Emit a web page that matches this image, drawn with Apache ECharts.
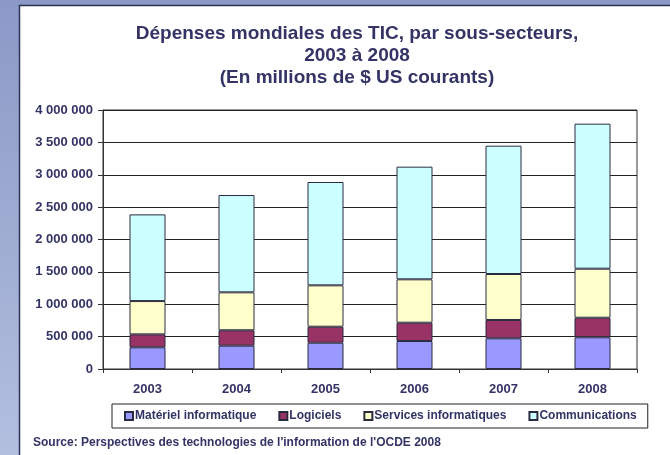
<!DOCTYPE html>
<html>
<head>
<meta charset="utf-8">
<script src="https://cdn.jsdelivr.net/npm/echarts@6/dist/echarts.min.js"></script>
<style>
  html, body { margin: 0; padding: 0; }
  #chart { width: 670px; height: 455px; }
</style>
</head>
<body>
<div id="chart"></div>
<script>
// données (millions de $ US)
const years = ['2003', '2004', '2005', '2006', '2007', '2008']
const materiel = [335000, 360000, 406000, 432000, 474000, 490000]
const logiciels = [200000, 238000, 247000, 283000, 283000, 302000]
const services = [514000, 586000, 639000, 670000, 710000, 757000]
const communications = [1339000, 1503000, 1596000, 1740000, 1982000, 2240000]
const seriesNames = ['Matériel informatique', 'Logiciels', 'Services informatiques', 'Communications']

const textColor = '#333366'
const font = 'Liberation Sans, Arial, sans-serif'

const fmt = v => String(v).replace(/\B(?=(\d{3})+(?!\d))/g, ' ')

const chart = echarts.init(document.getElementById('chart'))

function bar(name, data, color) {
  return {
    name: name,
    type: 'bar',
    stack: 'total',
    data: data,
    barWidth: 36,
    itemStyle: { color: color, borderColor: '#2b2b40', borderWidth: 1 }
  }
}

const option = {
  backgroundColor: {
    type: 'linear', x: 0, y: 0, x2: 0, y2: 1,
    colorStops: [{ offset: 0, color: '#8a99c6' }, { offset: 1, color: '#b3bfdf' }]
  },
  graphic: [{
    type: 'rect',
    z: -10,
    shape: { x: 19.5, y: 5.5, width: 700, height: 500 },
    style: { fill: '#fff', stroke: '#2e3358', lineWidth: 1.5 }
  }],
  title: [{
    text: 'Dépenses mondiales des TIC, par sous-secteurs,\n2003 à 2008\n(En millions de $ US courants)',
    left: 352,
    textAlign: 'center',
    top: 18,
    textStyle: { fontFamily: font, fontSize: 19, fontWeight: 'bold', color: textColor, lineHeight: 22 }
  }, {
    text: "Source: Perspectives des technologies de l'information de l'OCDE 2008",
    left: 28,
    top: 432,
    textStyle: { fontFamily: font, fontSize: 12, fontWeight: 'bold', color: textColor }
  }],
  legend: {
    data: seriesNames,
    left: 112,
    top: 404,
    padding: [6, 11, 6, 12],
    itemGap: 22,
    itemWidth: 8,
    itemHeight: 8,
    icon: 'rect',
    borderColor: '#222',
    borderWidth: 1,
    textStyle: { fontFamily: font, fontSize: 12, fontWeight: 'bold', color: textColor, padding: [0, 0, 0, -3] }
  },
  grid: {
    left: 103, right: 33, top: 110, bottom: 86,
    show: true, borderColor: '#333', borderWidth: 1
  },
  xAxis: {
    type: 'category',
    data: years,
    axisLine: { lineStyle: { color: '#333', width: 1 } },
    axisTick: { show: true, length: 4, lineStyle: { color: '#333' } },
    axisLabel: { fontFamily: font, fontSize: 13, fontWeight: 'bold', color: textColor, margin: 14 }
  },
  yAxis: {
    type: 'value',
    min: 0,
    max: 4000000,
    interval: 500000,
    axisLine: { show: true, lineStyle: { color: '#333', width: 1 } },
    axisTick: { show: true, length: 5, lineStyle: { color: '#333' } },
    splitLine: { lineStyle: { color: '#222', width: 1 } },
    axisLabel: { fontFamily: font, fontSize: 13, fontWeight: 'bold', color: textColor, margin: 10, formatter: fmt }
  },
  series: [
    bar(seriesNames[0], materiel, '#9999ff'),
    bar(seriesNames[1], logiciels, '#993366'),
    bar(seriesNames[2], services, '#ffffcc'),
    bar(seriesNames[3], communications, '#ccffff')
  ]
}

chart.setOption(option)
</script>
</body>
</html>
